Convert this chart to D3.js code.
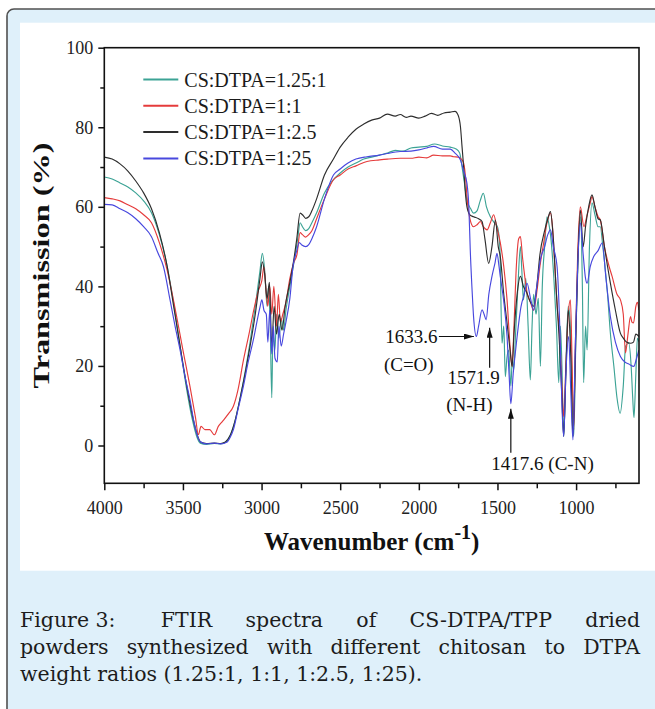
<!DOCTYPE html>
<html>
<head>
<meta charset="utf-8">
<script src="https://cdn.jsdelivr.net/npm/d3@7"></script>
<style>
  body { margin: 0; background: #fff; }
  svg { display: block; }
</style>
</head>
<body>
<script>
// FTIR spectra, [wavenumber (cm-1), transmission (%)]
const ratio125to1 = [[4000,67.5],[3950,67],[3900,66],[3850,65],[3800,63.5],[3750,61.5],[3700,58.5],[3650,53],[3600,45],[3560,36],[3520,25.5],[3480,15],[3440,6.5],[3410,2],[3390,0.6],[3350,0.3],[3300,0.5],[3260,0.4],[3230,0.8],[3200,2.5],[3170,6],[3136,12],[3100,19.5],[3073,26],[3040,35],[3010,44],[2995,48.3],[2980,44],[2965,35],[2955,40],[2945,30],[2935,12],[2928,28],[2915,24],[2905,33],[2890,27],[2875,32],[2860,29],[2845,34],[2820,40],[2790,47],[2770,52],[2755,56],[2740,55],[2720,54],[2700,54.5],[2680,56],[2650,58.5],[2600,63.5],[2550,66.5],[2500,68.5],[2450,70],[2400,71],[2350,72],[2300,72.5],[2250,73],[2200,73.5],[2150,74.2],[2100,74],[2050,74.8],[2000,75],[1950,75.2],[1900,75.8],[1850,75.3],[1800,75],[1760,74.5],[1740,73.5],[1725,70],[1710,66],[1694,61.7],[1670,59.5],[1652,58.4],[1630,59],[1610,61.5],[1590,63.4],[1570,60],[1545,57.5],[1520,56],[1500,55],[1485,50],[1471,25.7],[1460,30],[1450,17.3],[1440,22],[1429,24],[1415,15],[1405,22],[1397,19],[1385,28],[1370,40],[1354,50],[1345,44],[1335,36.6],[1320,42],[1305,30],[1291,16.5],[1280,30],[1270,38],[1255,33],[1240,37],[1227,19.9],[1215,40],[1200,50],[1185,57.5],[1170,55],[1160,52],[1142,42.5],[1125,30],[1110,15.8],[1100,30],[1090,20],[1079,2.3],[1065,20],[1050,35],[1036,30],[1015,2.3],[1000,30],[985,50],[973,57.5],[960,40],[952,15.8],[940,30],[930,24],[915,50],[899,61],[880,58],[860,55],[846,55],[830,50],[800,38],[782,28.2],[760,20],[740,12],[720,8.1],[700,15],[685,25],[665,25.7],[650,20],[640,12],[632,7],[620,18],[610,27],[600,26]];

const ratio1to1 = [[4000,62.3],[3950,62],[3900,61.5],[3850,60.5],[3800,59.5],[3750,58],[3700,56],[3650,51],[3600,44],[3550,34.5],[3500,24],[3455,14.8],[3420,7],[3402,2.7],[3385,4.8],[3360,4],[3330,4],[3300,2.7],[3275,4.8],[3250,6],[3210,8],[3180,9.8],[3150,14],[3115,21.5],[3080,28],[3050,34],[3020,39],[2998,41.5],[2985,45],[2970,38],[2960,35],[2948,40],[2935,33],[2922,40],[2905,30],[2893,38],[2880,31],[2865,33],[2845,36],[2820,42],[2797,45.8],[2775,48],[2755,53.5],[2740,53],[2720,52.4],[2700,53],[2680,54],[2650,57],[2600,62],[2543,66.8],[2500,68],[2450,69.5],[2400,70.3],[2330,71.4],[2250,71.8],[2200,72],[2118,72.2],[2050,72.2],[2000,72.5],[1950,72.3],[1906,73],[1850,72.8],[1800,72.8],[1779,72.6],[1750,72.5],[1730,72],[1715,71],[1700,66],[1694,62.6],[1675,57],[1652,55],[1630,55.5],[1609,56.3],[1590,55],[1566,54.2],[1545,56],[1524,58],[1505,55],[1482,51],[1460,45],[1439,36.6],[1420,25],[1407,19.9],[1395,30],[1380,45],[1365,52],[1354,52.5],[1340,47],[1325,42],[1312,38.3],[1290,36],[1270,34],[1248,39.1],[1230,45],[1210,50],[1185,56],[1163,58.4],[1150,55],[1135,45],[1120,35],[1105,28],[1090,15],[1079,7.3],[1065,20],[1050,33],[1036,36.6],[1025,20],[1015,4],[1005,25],[990,48],[973,60],[950,55],[930,58],[910,61],[899,62.6],[880,60],[860,57.5],[846,56.7],[820,50],[790,45],[771,42.5],[740,38],[718,36.6],[700,33],[686,23.3],[670,28],[654,32.4],[645,31],[635,30.8],[620,35],[610,36],[601,34]];

const ratio1to2_5 = [[4000,72.5],[3950,72],[3900,70.8],[3850,69],[3800,66.5],[3750,63.5],[3700,59.5],[3650,53.5],[3600,45],[3561,35.5],[3518,25],[3476,15],[3434,6.5],[3402,1.9],[3385,0.8],[3350,0.5],[3300,0.6],[3260,0.5],[3230,0.9],[3200,2.5],[3170,6],[3136,12],[3100,19],[3073,25],[3040,33],[3010,42],[2995,46.2],[2980,43],[2965,37],[2950,41],[2935,25],[2920,35],[2905,28],[2888,33],[2870,29],[2850,35],[2820,41],[2790,48],[2776,52],[2755,58.4],[2735,57.8],[2720,57.1],[2700,57.5],[2680,59],[2650,62],[2600,68],[2543,72],[2500,75],[2450,77.5],[2400,79.5],[2350,80.8],[2300,81.8],[2250,82.3],[2200,83.3],[2150,82.8],[2118,83.2],[2080,82.5],[2050,82.8],[2000,82.3],[1960,82.8],[1920,83.5],[1880,83],[1840,83.6],[1800,83.8],[1770,84],[1750,83],[1735,80],[1725,75],[1715,70],[1705,64],[1694,60],[1675,58],[1652,57.5],[1620,57],[1598,56.3],[1580,52],[1556,45.8],[1535,50],[1513,56.7],[1495,50],[1482,47.5],[1460,38],[1439,30.8],[1420,24],[1407,19.9],[1395,28],[1375,38],[1354,42.5],[1335,40],[1312,38.3],[1290,36],[1270,35],[1250,40],[1230,48],[1200,54],[1180,57],[1163,58.8],[1145,52],[1125,38],[1105,25],[1090,12],[1079,2.3],[1065,18],[1050,34],[1036,25],[1020,2.3],[1005,22],[990,45],[973,59.2],[955,50],[940,55],[920,60],[899,63],[880,60],[860,57],[846,56.7],[820,50],[800,45],[782,40.8],[750,34],[718,28.2],[700,27],[680,26],[654,25.7],[635,26],[620,28],[601,27.4]];

const ratio1to25 = [[4000,60.6],[3950,60.5],[3900,59.5],[3850,58.5],[3800,57],[3750,55],[3700,52.5],[3660,48.5],[3624,45],[3582,36.6],[3550,30],[3518,24],[3485,17],[3455,11.5],[3430,6],[3412,3],[3391,1],[3350,0.4],[3300,0.6],[3260,0.4],[3221,0.8],[3200,2],[3179,4],[3150,9],[3115,15],[3085,21],[3052,26.6],[3030,31],[3009,35],[2998,36.6],[2985,34],[2970,33],[2960,26],[2948,34],[2935,23],[2925,30],[2915,22],[2900,21],[2890,30],[2875,25],[2860,28],[2845,31],[2820,37],[2800,45],[2776,49],[2760,51],[2744,50.4],[2720,50],[2700,50.5],[2680,52],[2650,55],[2600,62],[2543,68],[2500,69.5],[2450,71],[2400,72],[2330,72.6],[2250,73],[2200,73.4],[2118,73.9],[2050,74],[2000,74.3],[1950,74.8],[1906,75.2],[1850,74.5],[1800,74.5],[1770,73.5],[1736,71.8],[1715,69],[1694,65.9],[1682,60],[1673,49.2],[1660,38],[1652,32.4],[1634,27.4],[1620,30],[1598,34.1],[1585,33],[1572,31.6],[1555,38],[1535,42.5],[1515,46],[1503,48.3],[1490,45],[1482,42.5],[1461,36.6],[1439,27.4],[1425,17],[1415,10.5],[1400,18],[1390,22],[1375,27.4],[1350,35],[1330,38],[1312,40.8],[1290,37],[1270,34],[1250,40],[1227,46.7],[1200,50],[1180,53],[1163,54.2],[1145,50],[1121,45],[1100,25],[1090,10],[1079,2.3],[1065,18],[1047,27.4],[1035,15],[1020,1.4],[1005,25],[990,45],[973,55.9],[955,48],[940,42],[930,40.8],[910,45],[888,47.5],[860,49],[834,50.9],[810,42],[782,32.4],[750,26],[718,22.4],[690,21],[665,20.5],[633,19.9],[615,22],[601,24]];

const legendLabels = ["CS:DTPA=1.25:1", "CS:DTPA=1:1", "CS:DTPA=1:2.5", "CS:DTPA=1:25"];
const seriesColors = ["#3ca395", "#e53b3b", "#2e2e2e", "#4848de"];
const xTicks = [4000, 3500, 3000, 2500, 2000, 1500, 1000];
const xMinorTicks = [3750, 3250, 2750, 2250, 1750, 1250, 750];
const yTicks = [0, 20, 40, 60, 80, 100];
const yMinorTicks = [10, 30, 50, 70, 90];
// band labels: wavenumber and transmission of the marked minimum (blue trace)
const bandLabels = [
  { wn: 1634, t: 27.4, value: "1633.6", group: "(C=O)" },
  { wn: 1572, t: 31.6, value: "1571.9", group: "(N-H)" },
  { wn: 1415, t: 10.5, value: "1417.6", group: "(C-N)" }
];
const captionLines = [
  ["Figure 3:", "FTIR", "spectra", "of", "CS-DTPA/TPP", "dried"],
  ["powders", "synthesized", "with", "different", "chitosan", "to", "DTPA"],
  "weight ratios (1.25:1, 1:1, 1:2.5, 1:25)."
];

const W = 655, H = 709;
const pL = 104.3, pR = 639, pT = 47.7, pB = 483.3;
const serif = "'Liberation Serif', 'Times New Roman', serif";

const svg = d3.select("body").append("svg")
  .attr("width", W).attr("height", H)
  .style("font-family", serif);

// card background
svg.append("rect").attr("x", 7).attr("y", 9).attr("width", 660).attr("height", 720)
  .attr("rx", 7).attr("fill", "#dff0fa").attr("stroke", "#505050").attr("stroke-width", 1.6);
svg.append("rect").attr("x", 20).attr("y", 22.7).attr("width", W - 20).attr("height", 548)
  .attr("fill", "#fff");

const x = d3.scaleLinear().domain([4000, 600]).range([pL, pR]);
const y = d3.scaleLinear().domain([-9.5, 100]).range([pB, pT]);

const defs = svg.append("defs");
defs.append("clipPath").attr("id", "plotclip")
  .append("rect").attr("x", pL).attr("y", pT).attr("width", pR - pL).attr("height", pB - pT);

// axes
const gx = svg.append("g").attr("transform", `translate(0,${pB})`)
  .call(d3.axisBottom(x).tickValues(xTicks).tickSize(7).tickPadding(11).tickFormat(d3.format("d")));
const gxm = svg.append("g").attr("transform", `translate(0,${pB})`)
  .call(d3.axisBottom(x).tickValues(xMinorTicks).tickSize(5).tickFormat(""));
const gy = svg.append("g").attr("transform", `translate(${pL},0)`)
  .call(d3.axisLeft(y).tickValues(yTicks).tickSize(6).tickPadding(5));
const gym = svg.append("g").attr("transform", `translate(${pL},0)`)
  .call(d3.axisLeft(y).tickValues(yMinorTicks).tickSize(4).tickFormat(""));

[gx, gxm, gy, gym].forEach(g => {
  g.select(".domain").remove();
  g.selectAll("line").attr("stroke", "#111").attr("stroke-width", 1.5);
  g.selectAll("text").attr("font-family", serif).attr("font-size", 18).attr("fill", "#222");
});

// spectra
const line = d3.line()
  .x(d => x(d[0]))
  .y(d => y(d[1]))
  .curve(d3.curveMonotoneX);

const allSeries = [ratio125to1, ratio1to1, ratio1to2_5, ratio1to25];
svg.append("g").attr("clip-path", "url(#plotclip)")
  .selectAll("path")
  .data(allSeries)
  .enter()
  .append("path")
  .attr("d", line)
  .attr("fill", "none")
  .attr("stroke", (d, i) => seriesColors[i])
  .attr("stroke-width", 1.15)
  .attr("stroke-linejoin", "round");

// frame
svg.append("rect").attr("x", pL).attr("y", pT)
  .attr("width", pR - pL).attr("height", pB - pT)
  .attr("fill", "none").attr("stroke", "#111").attr("stroke-width", 1.6);

// legend
const legend = svg.append("g").selectAll("g")
  .data(legendLabels)
  .enter()
  .append("g")
  .attr("transform", (d, i) => `translate(143.3,${79.5 + i * 26.3})`);
legend.append("line").attr("x1", 0).attr("x2", 35)
  .attr("stroke", (d, i) => seriesColors[i]).attr("stroke-width", 2);
legend.append("text").attr("x", 41).attr("dy", "0.35em")
  .attr("font-size", 20).attr("fill", "#1a1a1a").text(d => d);

// axis titles
svg.append("text")
  .attr("transform", `translate(48.5,${(pT + pB) / 2}) rotate(-90)`)
  .attr("text-anchor", "middle")
  .attr("font-size", 24).attr("font-weight", "bold").attr("fill", "#111")
  .attr("textLength", 246).attr("lengthAdjust", "spacingAndGlyphs")
  .text("Transmission (%)");

const xt = svg.append("text")
  .attr("x", (pL + pR) / 2).attr("y", 550)
  .attr("text-anchor", "middle")
  .attr("font-size", 25).attr("font-weight", "bold").attr("fill", "#111");
xt.append("tspan").text("Wavenumber (cm");
xt.append("tspan").attr("dy", -11).attr("font-size", 20).text("-1");
xt.append("tspan").attr("dy", 11).text(")");

// band annotations
defs.append("marker")
  .attr("id", "arrow").attr("viewBox", "0 0 10 6")
  .attr("refX", 10).attr("refY", 3)
  .attr("markerWidth", 10).attr("markerHeight", 6)
  .attr("markerUnits", "userSpaceOnUse")
  .attr("orient", "auto")
  .append("path").attr("d", "M0,0 L10,3 L0,6 Z").attr("fill", "#111");

const ann = svg.append("g").attr("font-size", 19).attr("fill", "#111");
const arrowStyle = s => s.attr("stroke", "#111").attr("stroke-width", 1.2).attr("marker-end", "url(#arrow)");

// 1633.6 (C=O): horizontal arrow from the left
{
  const b = bandLabels[0], tx = x(b.wn) - 2.5, ty = y(b.t);
  ann.append("line").attr("x1", tx - 35).attr("y1", ty).attr("x2", tx).attr("y2", ty).call(arrowStyle);
  ann.append("text").attr("x", tx - 36.5).attr("y", ty).attr("dy", "0.35em").attr("text-anchor", "end").text(b.value);
  ann.append("text").attr("x", tx - 90).attr("y", ty + 28).attr("dy", "0.35em").text(b.group);
}
// 1571.9 (N-H): vertical arrow from below
{
  const b = bandLabels[1], tx = x(b.wn) + 3.5, ty = y(b.t) + 8;
  ann.append("line").attr("x1", tx).attr("y1", ty + 40).attr("x2", tx).attr("y2", ty).call(arrowStyle);
  ann.append("text").attr("x", tx + 10).attr("y", ty + 50).attr("dy", "0.35em").attr("text-anchor", "end").text(b.value);
  ann.append("text").attr("x", tx - 43.5).attr("y", ty + 77).attr("dy", "0.35em").text(b.group);
}
// 1417.6 (C-N): vertical arrow from below
{
  const b = bandLabels[2], tx = x(b.wn), ty = y(b.t) + 5;
  ann.append("line").attr("x1", tx).attr("y1", ty + 44).attr("x2", tx).attr("y2", ty).call(arrowStyle);
  ann.append("text").attr("x", tx - 19.5).attr("y", ty + 55).attr("dy", "0.35em").text(`${b.value} ${b.group}`);
}

// caption, justified lines
const cap = svg.append("g")
  .attr("font-family", "'DejaVu Serif', serif")
  .attr("font-size", 20.5).attr("fill", "#1c1c1c");
const capLeft = 20, capWidth = 620, capY = [627, 654, 681];
captionLines.forEach((ln, li) => {
  if (typeof ln === "string") {
    cap.append("text").attr("x", capLeft).attr("y", capY[li]).text(ln);
    return;
  }
  const texts = ln.map(w => cap.append("text").attr("y", capY[li]).text(w));
  const widths = texts.map(t => t.node().getComputedTextLength());
  const extra = li === 0 ? 12 : 0;
  const gap = (capWidth - d3.sum(widths) - extra) / (ln.length - 1);
  let cx = capLeft;
  texts.forEach((t, i) => {
    t.attr("x", cx);
    cx += widths[i] + gap + (i === 0 ? extra : 0);
  });
});
</script>
</body>
</html>
